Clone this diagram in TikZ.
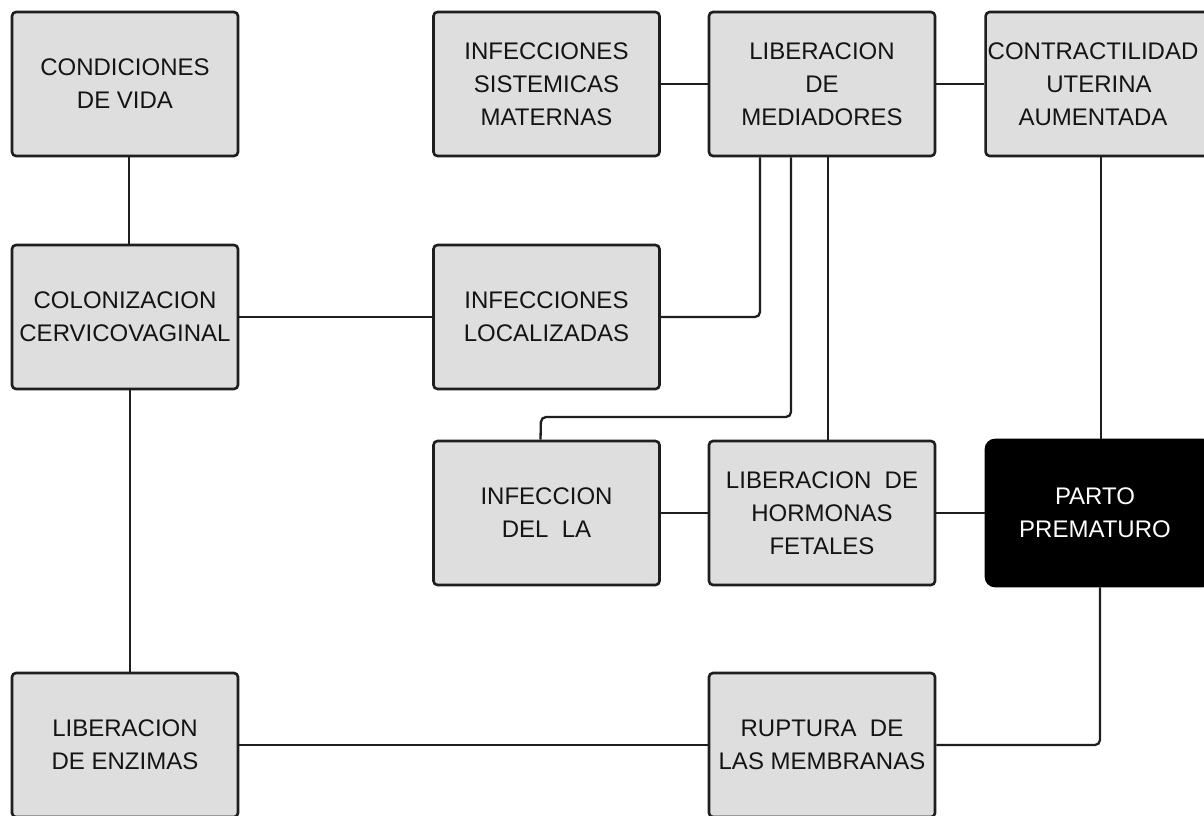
\documentclass[tikz,border=0pt]{standalone}
\usepackage{fontspec}
\setmainfont{Liberation Sans}
\usetikzlibrary{positioning}
\definecolor{boxgray}{RGB}{222,222,222}
\definecolor{edgec}{RGB}{30,30,30}
\definecolor{txtc}{RGB}{20,20,20}
\tikzset{
  box/.style={draw=edgec, fill=boxgray, line width=2.6pt, rounded corners=4pt,
    minimum width=226pt, minimum height=144pt, inner sep=2pt, align=center,
    text=txtc, font=\fontsize{24}{33}\selectfont},
  darkbox/.style={box, fill=black, draw=black, text=white, rounded corners=9pt, minimum height=146pt},
  conn/.style={draw=edgec, line width=2.3pt, rounded corners=5pt}
}
\begin{document}
\begin{tikzpicture}[x=1pt, y=-1pt]
\useasboundingbox (0,0) rectangle (1204,816);
\fill[white] (0,0) rectangle (1204,816);
\coordinate (j1) at (541,417);
\node[box] (cond) at (125,84) {CONDICIONES\\DE VIDA};
\node[box] (infsist) at (546.5,84) {INFECCIONES\\SISTEMICAS\\MATERNAS};
\node[box] (libmed) at (822,84) {LIBERACION\\DE\\MEDIADORES};
\node[box] (contr) at (1099,84) {CONTRACTILIDAD\hspace*{12pt}\\UTERINA\hspace*{12pt}\\AUMENTADA\hspace*{12pt}};
\node[box] (colon) at (125,317) {COLONIZACION\\CERVICOVAGINAL};
\node[box] (infloc) at (546.5,317) {INFECCIONES\\LOCALIZADAS};
\node[box] (infla) at (546.5,513) {INFECCION\\DEL\ \ LA};
\node[box] (libhorm) at (822,513) {LIBERACION\ \ DE\\HORMONAS\\FETALES};
\node[darkbox] (parto) at (1099,513) {PARTO\hspace*{8pt}\\PREMATURO\hspace*{8pt}};
\node[box] (libenz) at (125,745) {LIBERACION\\DE ENZIMAS};
\node[box] (ruptura) at (822,745) {RUPTURA\ \ DE\\LAS MEMBRANAS};

\draw[conn] ([xshift=4pt]cond.south) -- ([xshift=4pt]colon.north);
\draw[conn] (colon.east) -- (infloc.west);
\draw[conn] (infsist.east) -- (libmed.west);
\draw[conn] (libmed.east) -- (contr.west);
\draw[conn] (infloc.east) -| ([xshift=-62pt]libmed.south);
\draw[conn] ([xshift=-31pt]libmed.south) |- (j1) -- ([xshift=-6pt]infla.north);
\draw[conn] ([xshift=6pt]libmed.south) -- ([xshift=6pt]libhorm.north);
\draw[conn] (infla.east) -- (libhorm.west);
\draw[conn] (libhorm.east) -- (parto.west);
\draw[conn] ([xshift=2pt]contr.south) -- ([xshift=2pt]parto.north);
\draw[conn] ([xshift=1pt]parto.south) |- (ruptura.east);
\draw[conn] (libenz.east) -- (ruptura.west);
\draw[conn] ([xshift=5pt]colon.south) -- ([xshift=5pt]libenz.north);
\end{tikzpicture}
\end{document}
